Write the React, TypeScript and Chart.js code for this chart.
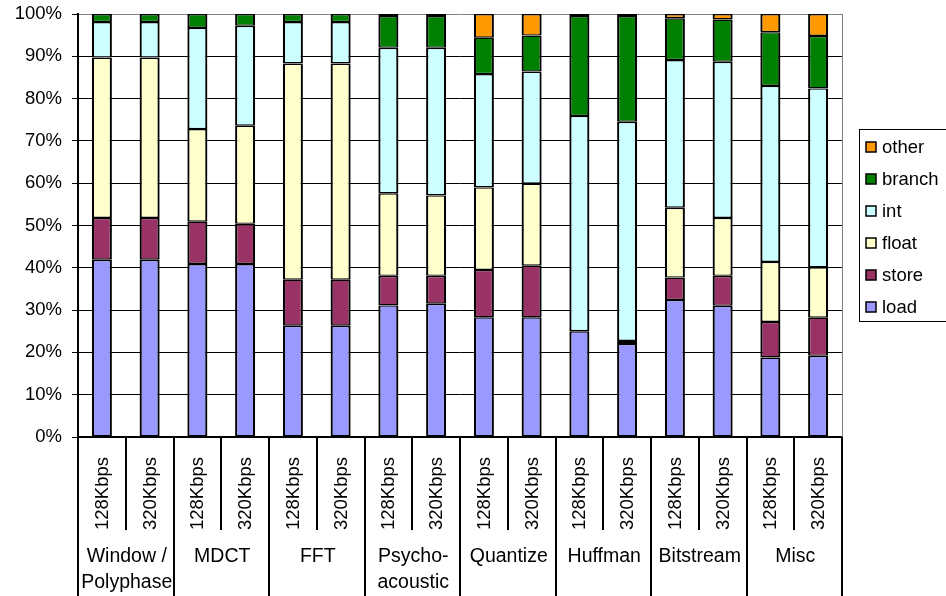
import { useEffect, useRef } from "react";
import { Chart, registerables } from "chart.js";

Chart.register(...registerables);

// Encoder stages (two-line names are split into lines)
const groups: string[][] = [
  ["Window /", "Polyphase"],
  ["MDCT"],
  ["FFT"],
  ["Psycho-", "acoustic"],
  ["Quantize"],
  ["Huffman"],
  ["Bitstream"],
  ["Misc"],
];
const rates = ["128Kbps", "320Kbps"];
const categories = groups.flatMap((g) => rates.map((r) => `${g.join(" ")} ${r}`));

// Instruction mix, percent of instructions per stage and bitrate
const load = [41.9, 41.9, 40.9, 40.9, 26.3, 26.3, 31.1, 31.5, 28.3, 28.3, 25.0, 22.0, 32.4, 31.0, 18.8, 19.2];
const store = [9.9, 9.9, 10.0, 9.5, 10.9, 10.9, 7.0, 6.6, 11.2, 12.2, 0, 0.7, 5.3, 7.1, 8.4, 9.0];
const float = [37.9, 37.9, 21.9, 23.2, 51.1, 51.1, 19.5, 19.0, 19.5, 19.4, 0, 0, 16.5, 13.7, 14.2, 11.9];
const int = [8.4, 8.4, 23.9, 23.6, 9.8, 9.8, 34.4, 34.9, 26.8, 26.5, 50.9, 51.8, 34.9, 36.9, 41.6, 42.3];
const branch = [1.9, 1.9, 3.3, 2.8, 1.9, 1.9, 7.5, 7.5, 8.6, 8.5, 23.6, 25.0, 9.9, 10.0, 12.7, 12.4];
const other = [0, 0, 0, 0, 0, 0, 0.5, 0.5, 5.6, 5.1, 0.5, 0.5, 1.0, 1.3, 4.3, 5.2];

const seriesNames = ["load", "store", "float", "int", "branch", "other"];
const seriesValues = [load, store, float, int, branch, other];
const seriesColors = ["#9999FF", "#993366", "#FFFFCC", "#CCFFFF", "#008000", "#FF9900"];

const yTicks = [0, 10, 20, 30, 40, 50, 60, 70, 80, 90, 100];

const FONT = "'Liberation Sans', Arial, sans-serif";

const axisPlugin = {
  id: "groupedAxisAndLegend",
  afterDraw(chart: any) {
    const { ctx, chartArea: a } = chart;
    const x = chart.scales.x;
    const H = chart.height;
    const n = categories.length;
    const step = (a.right - a.left) / n;

    ctx.save();

    // gray right frame line
    ctx.strokeStyle = "#808080";
    ctx.lineWidth = 1;
    ctx.beginPath();
    ctx.moveTo(Math.round(a.right) + 0.5, a.top);
    ctx.lineTo(Math.round(a.right) + 0.5, a.bottom);
    ctx.stroke();

    // category separators below the axis
    ctx.strokeStyle = "#000";
    ctx.lineWidth = 2;
    for (let i = 0; i <= n; i++) {
      const px = Math.round(x.getPixelForValue(i) - step / 2);
      const bottom = i % 2 === 0 ? H : a.bottom + 93;
      ctx.beginPath();
      ctx.moveTo(px, a.bottom);
      ctx.lineTo(px, bottom);
      ctx.stroke();
    }

    // rotated bitrate labels
    ctx.fillStyle = "#000";
    ctx.font = `18.5px ${FONT}`;
    ctx.textAlign = "left";
    ctx.textBaseline = "middle";
    for (let i = 0; i < n; i++) {
      const cx = x.getPixelForValue(i);
      ctx.save();
      ctx.translate(cx + 1, a.bottom + 93);
      ctx.rotate(-Math.PI / 2);
      ctx.fillText(rates[i % 2], 0, 0);
      ctx.restore();
    }

    // stage names
    ctx.font = `19.5px ${FONT}`;
    ctx.textAlign = "center";
    groups.forEach((lines, g) => {
      const cx = (x.getPixelForValue(2 * g) + x.getPixelForValue(2 * g + 1)) / 2;
      lines.forEach((t, j) => ctx.fillText(t, cx + 1, a.bottom + 120 + j * 26));
    });

    // legend box
    ctx.strokeStyle = "#000";
    ctx.lineWidth = 1;
    ctx.strokeRect(859.5, 129.5, 100, 192);
    ctx.font = `18.5px ${FONT}`;
    ctx.textAlign = "left";
    for (let k = 0; k < seriesNames.length; k++) {
      const idx = seriesNames.length - 1 - k;
      const cy = 147 + k * 32;
      ctx.fillStyle = seriesColors[idx];
      ctx.fillRect(866, cy - 5, 10, 10);
      ctx.strokeStyle = "#000";
      ctx.lineWidth = 1.5;
      ctx.strokeRect(866, cy - 5, 10, 10);
      ctx.fillStyle = "#000";
      ctx.fillText(seriesNames[idx], 882, cy + 1);
    }

    ctx.restore();
  },
};

export default function App() {
  const canvasRef = useRef<HTMLCanvasElement | null>(null);

  useEffect(() => {
    document.body.style.margin = "0";
    const canvas = canvasRef.current;
    if (!canvas) return;

    const chart = new Chart(canvas, {
      type: "bar",
      data: {
        labels: categories,
        datasets: seriesNames.map((name, i) => ({
          label: name,
          data: seriesValues[i],
          backgroundColor: seriesColors[i],
          borderColor: "#000",
          borderWidth: { top: 1.4, bottom: 1.4, left: 2.2, right: 2.2 },
          borderSkipped: false,
          barPercentage: 0.42,
          categoryPercentage: 1,
        })),
      },
      options: {
        responsive: false,
        animation: false,
        layout: { padding: { top: 14, right: 104, left: 0, bottom: 0 } },
        plugins: {
          legend: { display: false },
          tooltip: { enabled: false },
        },
        scales: {
          x: {
            stacked: true,
            offset: true,
            grid: { display: false },
            ticks: { display: false },
            border: { display: true, color: "#000", width: 2 },
            afterFit: (s: any) => {
              s.height = 159;
              s.paddingLeft = 0;
              s.paddingRight = 0;
            },
          },
          y: {
            stacked: true,
            min: 0,
            max: 100,
            afterBuildTicks: (s: any) => {
              s.ticks = yTicks.map((v) => ({ value: v }));
            },
            ticks: {
              callback: (v: any) => `${v}%`,
              color: "#000",
              font: { family: FONT, size: 18.5 },
              padding: 10,
            },
            grid: {
              color: (c: any) => (c.tick && c.tick.value === 100 ? "#808080" : "#000"),
              tickColor: "#000",
              tickLength: 6,
              lineWidth: 1,
            },
            border: { color: "#000", width: 2 },
            afterFit: (s: any) => {
              s.width = 78;
              s.paddingTop = 0;
              s.paddingBottom = 0;
            },
          },
        },
      },
      plugins: [axisPlugin],
    });

    return () => chart.destroy();
  }, []);

  return (
    <div style={{ width: 946, height: 596, background: "#fff" }}>
      <canvas ref={canvasRef} width={946} height={596} style={{ display: "block" }} />
    </div>
  );
}
